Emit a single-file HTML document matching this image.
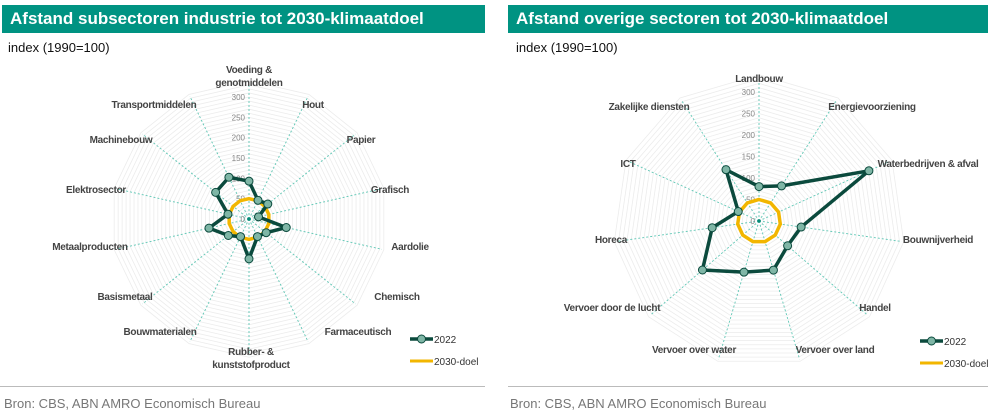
<!DOCTYPE html>
<html><head><meta charset="utf-8">
<style>
body{margin:0;width:991px;height:415px;background:#fff;font-family:"Liberation Sans",sans-serif;position:relative;overflow:hidden}
.bar{position:absolute;top:5px;height:28px;background:#009382;color:#fff;font-weight:bold;font-size:17px;line-height:28px;padding-left:8px;box-sizing:border-box}
.sub{position:absolute;top:40px;font-size:13px;color:#111}
.sep{position:absolute;top:386px;height:1px;background:#bbb}
.src{position:absolute;top:396px;font-size:13px;color:#777}
svg{position:absolute;left:0;top:0}
</style></head><body>
<div class="bar" style="left:2px;width:483px">Afstand subsectoren industrie tot 2030-klimaatdoel</div>
<div class="bar" style="left:508px;width:480px">Afstand overige sectoren tot 2030-klimaatdoel</div>
<div class="sub" style="left:8px">index (1990=100)</div>
<div class="sub" style="left:516px">index (1990=100)</div>
<div class="sep" style="left:0;width:485px"></div>
<div class="sep" style="left:508px;width:480px"></div>
<div class="src" style="left:4px">Bron: CBS, ABN AMRO Economisch Bureau</div>
<div class="src" style="left:510px">Bron: CBS, ABN AMRO Economisch Bureau</div>
<svg id="chart" width="991" height="415"></svg>
<script>
const leftCategories=["Voeding &|genotmiddelen","Hout","Papier","Grafisch","Aardolie","Chemisch","Farmaceutisch","Rubber- &|kunststofproduct","Bouwmaterialen","Basismetaal","Metaalproducten","Elektrosector","Machinebouw","Transportmiddelen"];
const leftValues2022=[93,51,59,24,94,54,48,98,48,65,101,53,105,114];
const leftTarget=[50,50,50,50,50,50,50,50,50,50,50,50,50,50];
const rightCategories=["Landbouw","Energievoorziening","Waterbedrijven & afval","Bouwnijverheid","Handel","Vervoer over land","Vervoer over water","Vervoer door de lucht","Horeca","ICT","Zakelijke diensten"];
const rightValues2022=[80,97,281,99,88,119,124,174,110,53,142];
const rightTarget=[50,50,50,50,50,50,50,50,50,50,50];
const tickLabels=["0","50","100","150","200","250","300"];
const tickValues=[0,50,100,150,200,250,300];
const seriesNames=["2022","2030-doel"];

// layout (pixel positions of category labels, not data)
const leftLabelPos=[[249,73],[313,108],[361,143],[390,193],[410,250],[397,300],[358,335],[251,355],[160,335],[125,300],[90,250],[96,193],[121,143],[154,108]];
const rightLabelPos=[[759,82],[872,110],[928,167],[938,243],[875,311],[835,353],[694,353],[612,311],[611,243],[628,167],[649,110]];

const NS="http://www.w3.org/2000/svg";
const svg=document.getElementById('chart');
function mk(t,a,p){const e=document.createElementNS(NS,t);for(const k in a)e.setAttribute(k,a[k]);(p||svg).appendChild(e);return e;}

function radar(cx,cy,rMax,cats,vals,target,labelPos,prefix,legX,legY){
  const g=mk('g',{});
  
  
  const n=cats.length;
  const scale=v=>v/300*rMax;
  const pt=(i,v)=>{const a=2*Math.PI*i/n;return [cx+Math.sin(a)*scale(v),cy-Math.cos(a)*scale(v)];};
  for(let v=10;v<=340;v+=10){
    const pts=cats.map((c,i)=>pt(i,v).join(',')).join(' ');
    const gr=mk('polygon',{points:pts,fill:'none',stroke:'#ececec','stroke-width':0.8},g);
    
    
  }
  cats.forEach((c,i)=>{
    const e=pt(i,335);
    const s=mk('line',{x1:cx,y1:cy,x2:e[0],y2:e[1],stroke:'#5fc7b5','stroke-width':0.9,'stroke-dasharray':'2,2'},g);
    
    
  });
  tickLabels.forEach((t,i)=>{
    const y=cy-scale(tickValues[i]);
    const tx=mk('text',{x:cx-4,y:y+3,'text-anchor':'end','font-size':8,fill:'#888'},g);
    tx.textContent=t;
    
    
  });
  // target
  const tp=target.map((v,i)=>pt(i,v).join(',')).join(' ');
  const tg=mk('polygon',{points:tp,fill:'none',stroke:'#f2b600','stroke-width':3.5},g);
  
  
  mk('circle',{cx:cx,cy:cy,r:1.8,fill:'#0a8a78'},g);
  const vp=vals.map((v,i)=>pt(i,v).join(',')).join(' ');
  const sl=mk('polygon',{points:vp,fill:'none',stroke:'#0b4a3d','stroke-width':3.5,'stroke-linejoin':'round'},g);
  
  
  vals.forEach((v,i)=>{
    const p=pt(i,v);
    const c=mk('circle',{cx:p[0],cy:p[1],r:4,fill:'#7fb6a6',stroke:'#0b4a3d','stroke-width':1},g);
    
    
  });
  cats.forEach((c,i)=>{
    const [lx,ly]=labelPos[i];
    const lines=c.split('|');
    const t=mk('text',{x:lx,y:ly,'text-anchor':'middle','font-size':10,'font-weight':'bold',fill:'#444','letter-spacing':'-0.3'},g);
    lines.forEach((l,k)=>{const ts=mk('tspan',{x:lx,dy:k?13:0},t);ts.textContent=l;});
    
    
  });
  // legend
  const l1=mk('g',{},g);
  
  
  mk('line',{x1:legX,y1:legY,x2:legX+23,y2:legY,stroke:'#0b4a3d','stroke-width':3.5},l1);
  mk('circle',{cx:legX+11.5,cy:legY,r:4,fill:'#7fb6a6',stroke:'#0b4a3d','stroke-width':1},l1);
  const t1=mk('text',{x:legX+24,y:legY+4,'font-size':10,fill:'#333'},l1);t1.textContent=seriesNames[0];
  const l2=mk('g',{},g);
  
  
  mk('line',{x1:legX,y1:legY+22,x2:legX+23,y2:legY+22,stroke:'#f2b600','stroke-width':3},l2);
  const t2=mk('text',{x:legX+24,y:legY+26,'font-size':10,fill:'#333'},l2);t2.textContent=seriesNames[1];
}
radar(249,219,122,leftCategories,leftValues2022,leftTarget,leftLabelPos,'left',410,339);
radar(759,221,129,rightCategories,rightValues2022,rightTarget,rightLabelPos,'right',920,341);
</script>
</body></html>
